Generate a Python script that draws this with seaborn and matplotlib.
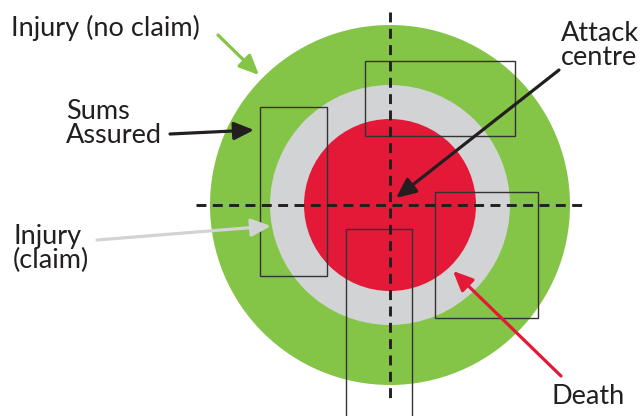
import matplotlib
matplotlib.use("Agg")
import matplotlib.pyplot as plt
import matplotlib.patches as mpatches
import seaborn as sns

# target geometry (picture pixels, y down)
centre = (390, 205)
ring_radii = [180, 120, 86]
ring_colors = ["#84c446", "#d1d3d4", "#e31937"]

# exposure boxes: x0, y0, x1, y1
boxes = [
    (365, 61, 515, 136),
    (260, 107, 327, 276),
    (435, 192, 538, 318),
    (346, 229, 412, 430),
]

# crosshair extents
h_line = ([196, 583], [205, 205])
v_line = ([390, 390], [12, 402])

# labels: text, x, y(baseline), arrow tail, arrow tip, arrow colour
labels = ["Injury (no claim)", "Sums\nAssured", "Attack\ncentre", "Injury\n(claim)", "Death"]
label_xy = [(11, 36), (66, 143), (561, 65), (13, 268), (552, 404)]
arrow_tail = [(218, 35), (170, 134), (559, 70), (97, 240), (561, 376)]
arrow_tip = [(259, 75), (254, 130), (396, 198), (271, 226), (453, 271)]
arrow_colors = ["#84c446", "#231f20", "#231f20", "#d1d3d4", "#e31937"]

sns.set_theme(style="white")
plt.rcParams["font.family"] = ["Lato", "DejaVu Sans"]

fig = plt.figure(figsize=(6.41, 4.16), dpi=100)
ax = fig.add_axes([0, 0, 1, 1])
ax.set_xlim(0, 641)
ax.set_ylim(416, 0)
ax.set_aspect("equal")
ax.axis("off")

for r, c in zip(ring_radii, ring_colors):
    ax.add_patch(mpatches.Circle(centre, r, color=c, lw=0, zorder=1))

for x0, y0, x1, y1 in boxes:
    ax.add_patch(mpatches.Rectangle((x0, y0), x1 - x0, y1 - y0, fill=False,
                                    ec="#333333", lw=1.0, zorder=2))

for xs, ys in (h_line, v_line):
    ax.plot(xs, ys, color="#231f20", lw=2.1, dashes=(3.4, 2.2), zorder=3)

for txt, (tx, ty), tail, tip, col in zip(labels, label_xy, arrow_tail, arrow_tip, arrow_colors):
    ax.text(tx, ty, txt, fontsize=19.5, color="#231f20", ha="left", va="baseline",
            linespacing=0.95, zorder=5)
    ax.annotate("", xy=tip, xytext=tail, zorder=4,
                arrowprops=dict(arrowstyle="-|>,head_length=1.0,head_width=0.45",
                                color=col, lw=2.3, shrinkA=0, shrinkB=0))

fig.savefig("out.png", dpi=100)
